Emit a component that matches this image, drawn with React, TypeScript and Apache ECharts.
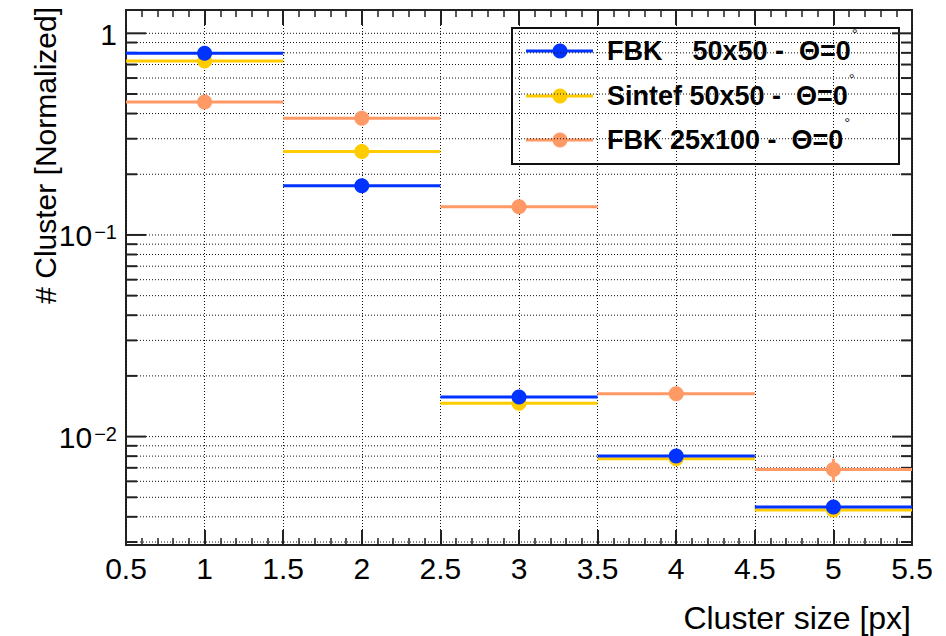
import React, { useEffect, useRef } from "react";
import * as echarts from "echarts";

// ---- data ----
const xCenters = [1, 2, 3, 4, 5];
const binHalfWidth = 0.5;
const fbk50Values = [0.796, 0.1755, 0.0157, 0.00802, 0.00448];
const fbk50Errors = [0, 0, 0, 0, 0];
const sintefValues = [0.729, 0.259, 0.01465, 0.00776, 0.00433];
const sintefErrors = [0, 0, 0, 0, 0];
const fbk25Values = [0.456, 0.379, 0.138, 0.0163, 0.00686];
const fbk25Errors = [0, 0, 0, 0, 0.0009];

const xMin = 0.5;
const xMax = 5.5;
const xInterval = 0.5;
const yMin = 0.0029;
const yMax = 1.305;
const yMajorTicks = [0.01, 0.1, 1];
const yMinorTicks = [
  0.003, 0.004, 0.005, 0.006, 0.007, 0.008, 0.009,
  0.02, 0.03, 0.04, 0.05, 0.06, 0.07, 0.08, 0.09,
  0.2, 0.3, 0.4, 0.5, 0.6, 0.7, 0.8, 0.9,
];

const legendLabels = ["FBK    50x50 -  Θ=0", "Sintef 50x50 -  Θ=0", "FBK 25x100 -  Θ=0"];
const xTitle = "Cluster size [px]";
const yTitle = "# Cluster [Normalized]";

const COLORS = ["#0033ff", "#ffcc00", "#ff9966"];
const FONT = "'Liberation Sans', Arial, Helvetica, sans-serif";

function dataSeries(name: string, values: number[], errors: number[], color: string, z: number) {
  return {
    type: "custom",
    name,
    xAxisIndex: 0,
    yAxisIndex: 0,
    z,
    silent: true,
    data: xCenters.map((x, i) => [x, values[i], errors[i]]),
    renderItem: (params: any, api: any) => {
      const x = api.value(0);
      const y = api.value(1);
      const e = api.value(2);
      const l = api.coord([x - binHalfWidth, y]);
      const r = api.coord([x + binHalfWidth, y]);
      const c = api.coord([x, y]);
      const children: any[] = [
        { type: "line", shape: { x1: l[0], y1: l[1], x2: r[0], y2: r[1] }, style: { stroke: color, lineWidth: 3 } },
      ];
      if (e > 0) {
        const up = api.coord([x, y + e]);
        const dn = api.coord([x, y - e]);
        children.push({
          type: "line",
          shape: { x1: c[0], y1: up[1], x2: c[0], y2: dn[1] },
          style: { stroke: color, lineWidth: 3 },
        });
      }
      children.push({ type: "circle", shape: { cx: c[0], cy: c[1], r: 7.5 }, style: { fill: color } });
      return { type: "group", children };
    },
  };
}

function gridSeries(values: number[], tickLen: number) {
  return {
    type: "custom",
    xAxisIndex: 0,
    yAxisIndex: 0,
    z: 1,
    silent: true,
    data: values.map((v) => [xMin, v]),
    renderItem: (params: any, api: any) => {
      const v = api.value(1);
      const a = api.coord([xMin, v]);
      const b = api.coord([xMax, v]);
      return {
        type: "group",
        children: [
          {
            type: "line",
            shape: { x1: a[0] + tickLen, y1: a[1], x2: b[0] - tickLen, y2: b[1] },
            style: { stroke: "#111", lineWidth: 1, lineDash: [1, 2] },
          },
          { type: "line", shape: { x1: a[0], y1: a[1], x2: a[0] + tickLen, y2: a[1] }, style: { stroke: "#222", lineWidth: 2 } },
          { type: "line", shape: { x1: b[0], y1: b[1], x2: b[0] - tickLen, y2: b[1] }, style: { stroke: "#222", lineWidth: 2 } },
        ],
      };
    },
  };
}

function buildLegend() {
  const rowY = [51, 96, 140];
  const children: any[] = [
    {
      type: "rect",
      shape: { x: 512, y: 28, width: 387, height: 136 },
      style: { fill: "#fff", stroke: "#111", lineWidth: 2 },
    },
  ];
  legendLabels.forEach((label, i) => {
    const y = rowY[i];
    children.push({ type: "line", shape: { x1: 526, y1: y, x2: 593, y2: y }, style: { stroke: COLORS[i], lineWidth: 3 } });
    children.push({ type: "circle", shape: { cx: 560, cy: y, r: 7.5 }, style: { fill: COLORS[i] } });
    children.push({
      type: "text",
      x: 607,
      y,
      style: {
        text: `{b|${label}}{d|°}`,
        verticalAlign: "middle",
        align: "left",
        rich: {
          b: { fontFamily: FONT, fontWeight: "bold", fontSize: 27, fill: "#000", lineHeight: 50 },
          d: { fontFamily: FONT, fontSize: 15, fill: "#222", lineHeight: 12, verticalAlign: "top", padding: [0, 0, 0, 1] },
        },
      },
    });
  });
  return { type: "group", z: 100, children };
}

export default function App() {
  const ref = useRef<HTMLDivElement>(null);
  useEffect(() => {
    if (!ref.current) return;
    const chart = echarts.init(ref.current, null, { renderer: "svg" });
    const xAxisCommon = {
      type: "value",
      min: xMin,
      max: xMax,
      interval: xInterval,
      axisLine: { show: false },
      axisTick: { show: true, inside: true, length: 15, lineStyle: { color: "#222", width: 2 } },
      minorTick: { show: true, splitNumber: 5, length: 7, lineStyle: { color: "#222", width: 1.5 } },
    };
    chart.setOption({
      animation: false,
      backgroundColor: "#fff",
      grid: { left: 126, right: 34, top: 10, bottom: 91, show: true, borderColor: "#222", borderWidth: 2, backgroundColor: "transparent" },
      xAxis: [
        {
          ...xAxisCommon,
          position: "bottom",
          axisLabel: { show: true, fontFamily: FONT, fontSize: 30, color: "#000", margin: 8 },
          splitLine: { show: true, lineStyle: { color: "#111", width: 1, type: [1, 2] } },
        },
        {
          ...xAxisCommon,
          position: "top",
          axisLabel: { show: false },
          splitLine: { show: false },
        },
      ],
      yAxis: [
        {
          type: "log",
          logBase: 10,
          min: yMin,
          max: yMax,
          axisLine: { show: false },
          axisTick: { show: false },
          minorTick: { show: false },
          splitLine: { show: false },
          axisLabel: {
            show: true,
            margin: 9,
            showMinLabel: false,
            showMaxLabel: false,
            formatter: (v: number) => {
              const e = Math.round(Math.log10(v));
              if (Math.abs(v / Math.pow(10, e) - 1) > 1e-6) return "";
              if (e === 0) return "{n|1}";
              return `{n|10}{s|−${-e}}`;
            },
            rich: {
              n: { fontFamily: FONT, fontSize: 30, color: "#000", lineHeight: 32, padding: [8, 0, 0, 0], verticalAlign: "bottom" },
              s: { fontFamily: FONT, fontSize: 20, color: "#000", lineHeight: 20, padding: [3, 0, 0, 2], verticalAlign: "top" },
            },
          },
        },
      ],
      series: [
        gridSeries(yMinorTicks, 11),
        gridSeries(yMajorTicks, 20),
        dataSeries(legendLabels[2], fbk25Values, fbk25Errors, COLORS[2], 3),
        dataSeries(legendLabels[1], sintefValues, sintefErrors, COLORS[1], 4),
        dataSeries(legendLabels[0], fbk50Values, fbk50Errors, COLORS[0], 5),
      ],
      graphic: [
        buildLegend(),
        {
          type: "text",
          x: 45,
          y: 7,
          rotation: Math.PI / 2,
          style: { text: yTitle, fontFamily: FONT, fontSize: 30, fill: "#000", align: "right", verticalAlign: "middle" },
        },
        {
          type: "text",
          x: 911,
          y: 618,
          style: { text: xTitle, fontFamily: FONT, fontSize: 32, fill: "#000", align: "right", verticalAlign: "middle" },
        },
      ],
    });
    return () => chart.dispose();
  }, []);
  return <div ref={ref} style={{ position: "absolute", left: 0, top: 0, width: 946, height: 636 }} />;
}
